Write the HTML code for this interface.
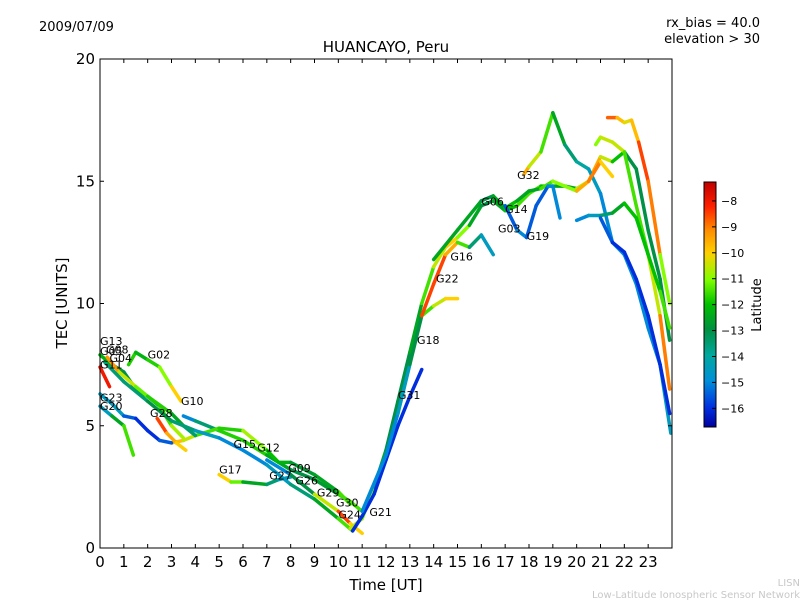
<!DOCTYPE html>
<html><head><meta charset="utf-8"><style>
body{margin:0;background:#fff;}
svg text{font-family:"DejaVu Sans","Liberation Sans",sans-serif;}
</style></head><body>
<svg id="chart" width="800" height="600" xmlns="http://www.w3.org/2000/svg">
<defs>
<linearGradient id="cbg" x1="0" y1="1" x2="0" y2="0">
<stop offset="0" stop-color="#0000a0"/>
<stop offset="0.08" stop-color="#0030e0"/>
<stop offset="0.19" stop-color="#0090d8"/>
<stop offset="0.29" stop-color="#00a8a0"/>
<stop offset="0.40" stop-color="#009040"/>
<stop offset="0.50" stop-color="#00c000"/>
<stop offset="0.60" stop-color="#80ff00"/>
<stop offset="0.71" stop-color="#ffd000"/>
<stop offset="0.80" stop-color="#ff9000"/>
<stop offset="0.90" stop-color="#ff2000"/>
<stop offset="1" stop-color="#c00000"/>
</linearGradient>
</defs>
<text x="39" y="31" font-size="13">2009/07/09</text>
<text x="760" y="27" font-size="13" text-anchor="end">rx_bias = 40.0</text>
<text x="760" y="43" font-size="13" text-anchor="end">elevation &gt; 30</text>
<text x="386" y="52" font-size="15" text-anchor="middle">HUANCAYO, Peru</text>
<g id="plot"></g>
<rect x="100" y="59" width="572" height="489" fill="none" stroke="#000" stroke-width="1"/>
<g id="axes"></g>
<text x="386" y="590" font-size="15" text-anchor="middle">Time [UT]</text>
<text x="67" y="303" font-size="15" text-anchor="middle" transform="rotate(-90 67 303)">TEC [UNITS]</text>
<rect x="704" y="182" width="12" height="245" fill="url(#cbg)" stroke="#000" stroke-width="1"/>
<g id="cbaxis"></g>
<text x="761" y="305" font-size="13" text-anchor="middle" transform="rotate(-90 761 305)">Latitude</text>
<text x="800" y="586" font-size="10" fill="#c8c8c8" text-anchor="end">LISN</text>
<text x="800" y="598" font-size="10" fill="#c8c8c8" text-anchor="end">Low-Latitude Ionospheric Sensor Network</text>
</svg>
<script>
const xTicks=[0,1,2,3,4,5,6,7,8,9,10,11,12,13,14,15,16,17,18,19,20,21,22,23];
const yTicks=[0,5,10,15,20];
const cbTicks=[-8,-9,-10,-11,-12,-13,-14,-15,-16];
const traceTimes=[
[0,0.5,1,1.5,2,2.5,3,3.5],
[1.2,1.5,2,2.5,3,3.4],
[3.5,4,5,6,7,8,9,10,10.5,11],
[3,3.5,4,5,6,6.5,7,7.5,8,9,10,10.5],
[5,5.5,6,7,7.5,8],
[0,0.5,1,1.4],
[0,0.5,1,1.5,2,2.5,3],
[0.3,0.8,1.5,2,3,3.5,4],
[0,0.4],
[2.4,2.8,3.2,3.6],
[0.2,1,2,3,4,5,6,7,8,9,10,10.6],
[7,8,9,10,10.5,11],
[10.5,11,11.5,12,12.5,13,13.5,14,14.5,15,15.5,16,16.5,17,17.5,18,18.5,19,19.5,20,20.5,21,21.5,22,22.5,23,23.5,23.9],
[17.8,18,18.5,19,19.5,20,20.5,21,21.5,22,22.5,23,23.5,23.95],
[10.6,11,11.5,12,12.5,13,13.5],
[11,12,12.5,13,13.5,14,14.5,15],
[13.5,14,14.5,15,15.5,16,16.5],
[14,15,16,16.5,17,17.5,18,18.5,19,20,20.5,21,21.5],
[17,17.5,17.9,18.3,18.8,19,19.3],
[20.8,21,21.5,22,22.5,23,23.5,23.9],
[21.3,21.7,22,22.3,22.6,23,23.5,23.9],
[20,20.5,21,21.5,22,22.5,23,23.5,23.9],
[21,21.5,22,22.5,23,23.5,23.9]
];
const traceTec=[
[7.9,7.5,7.2,6.5,6.2,5.8,5.0,4.5],
[7.5,8.0,7.7,7.4,6.6,6.0],
[5.4,5.2,4.8,4.4,3.8,3.2,2.8,2.2,1.9,1.5],
[4.3,4.4,4.6,4.9,4.8,4.4,4.0,3.5,3.5,3.0,2.3,1.8],
[3.0,2.7,2.7,2.6,2.8,2.9],
[5.8,5.4,5.0,3.8],
[6.3,5.9,5.4,5.3,4.8,4.4,4.3],
[7.8,7.2,6.6,6.2,5.5,5.0,4.6],
[7.4,6.6],
[5.3,4.7,4.3,4.0],
[7.6,6.8,6.0,5.2,4.8,4.5,4.0,3.4,2.6,2.0,1.2,0.7],
[3.6,3.0,2.2,1.5,1.0,0.6],
[0.8,1.2,2.5,4.0,6.0,8.0,10,11.5,12.3,12.7,13.2,14,14.2,13.8,14.0,14.5,14.8,14.8,14.8,14.7,15.0,16.0,15.8,16.2,15.5,13,11,8.5],
[15.3,15.6,16.2,17.8,16.5,15.8,15.5,14.5,12.5,12.0,10.8,9.0,7.5,4.7],
[0.7,1.3,2.2,3.6,5.0,6.2,7.3],
[1.5,3.8,5.5,7.5,9.5,9.9,10.2,10.2],
[9.5,10.8,12.0,12.5,12.3,12.8,12.0],
[11.8,13.0,14.2,14.4,13.9,14.2,14.6,14.7,15.0,14.6,15.0,15.8,15.2],
[14.0,13.0,12.7,14.0,14.8,14.8,13.5],
[16.5,16.8,16.6,16.2,14.0,12.0,9.5,6.5],
[17.6,17.6,17.4,17.5,16.6,15.0,12.0,10.0],
[13.4,13.6,13.6,13.7,14.1,13.5,12.0,10.5,9.0],
[13.5,12.5,12.1,11.0,9.5,7.5,5.5]
];
const traceLat=[
[-12,-12.5,-13,-13,-12.5,-12,-11,-10.5],
[-11,-12.5,-12,-11.5,-10.5,-9.5],
[-15,-15,-12,-11.5,-12,-13,-13,-12.5,-11,-12],
[-9.5,-10,-11,-12,-11.5,-10,-12,-12,-12.5,-13,-12,-11],
[-9.5,-10.5,-12,-13,-14,-15],
[-16,-13,-12,-11],
[-15,-14,-15,-16,-16,-16,-15],
[-8.5,-10,-11,-11.5,-12,-13,-14],
[-8,-8],
[-8,-9,-10,-10],
[-13,-14,-13,-13,-14,-15,-15,-15,-14,-13,-12,-11],
[-16,-14,-12,-9,-8,-12],
[-11,-10,-12,-13,-13,-13,-12,-11,-10,-10,-12,-13,-13,-12,-12,-11,-12,-12,-13,-12,-9,-10,-11,-13,-13,-13,-13,-13],
[-9,-10,-11,-12,-13,-14,-14,-15,-15,-15,-15,-15,-15,-14],
[-16,-16,-16,-16,-16,-16,-16],
[-15,-15,-15,-14,-12,-11,-10,-10],
[-9,-8,-9,-10,-13,-14,-15],
[-13,-12,-13,-13,-12,-12,-13,-12,-11,-11,-8,-10,-10],
[-16,-15,-15,-16,-15,-15,-15],
[-11,-11,-10,-11,-12,-11,-10,-8],
[-8,-9.5,-10,-10.5,-9,-8,-10,-12],
[-15,-15,-14,-13,-12,-12,-12,-12,-11],
[-15,-16,-16,-16,-16,-16,-16]
];
const labelNames=["G13","G08","G05","G04","G02","G11","G23","G20","G10","G28","G15","G12","G17","G09","G27","G26","G29","G30","G24","G21","G31","G18","G22","G16","G06","G14","G03","G19","G32"];
const labelT=[0,0.25,0,0.4,2,0,0,0,3.4,2.1,5.6,6.6,5,7.9,7.1,8.2,9.1,9.9,10,11.3,12.5,13.3,14.1,14.7,16,17,16.7,17.9,17.5];
const labelTec=[8.3,7.95,7.9,7.6,7.75,7.35,6.0,5.65,5.85,5.35,4.1,3.95,3.05,3.1,2.8,2.6,2.1,1.7,1.2,1.3,6.1,8.35,10.85,11.75,14.0,13.7,12.9,12.6,15.1];
const X=t=>100+t*572/24, Y=v=>548-v*489/20;
const CBmin=-16.72,CBmax=-7.27, CY=l=>427-(l-CBmin)/(CBmax-CBmin)*245;
const stops=[[0,[0,0,160]],[0.08,[0,48,224]],[0.19,[0,144,216]],[0.29,[0,168,160]],[0.40,[0,144,64]],[0.5,[0,192,0]],[0.6,[128,255,0]],[0.71,[255,208,0]],[0.8,[255,144,0]],[0.9,[255,32,0]],[1,[192,0,0]]];
function col(l){let f=(l-CBmin)/(CBmax-CBmin);f=Math.max(0,Math.min(1,f));for(let i=1;i<stops.length;i++){if(f<=stops[i][0]){const a=stops[i-1],b=stops[i],u=(f-a[0])/(b[0]-a[0]);return 'rgb('+a[1].map((c,k)=>Math.round(c+(b[1][k]-c)*u)).join(',')+')';}}return 'rgb(192,0,0)';}
const NS='http://www.w3.org/2000/svg';
function mk(tag,attrs,parent){const e=document.createElementNS(NS,tag);for(const k in attrs)e.setAttribute(k,attrs[k]);parent.appendChild(e);return e;}
const plot=document.getElementById('plot');
traceTimes.forEach((ts,i)=>{
 const g=mk('g',{},plot);
 
 
 for(let j=1;j<ts.length;j++){
  const s=mk('line',{x1:X(ts[j-1]),y1:Y(traceTec[i][j-1]),x2:X(ts[j]),y2:Y(traceTec[i][j]),stroke:col((traceLat[i][j-1]+traceLat[i][j])/2),'stroke-width':3.5,'stroke-linecap':'round'},g);
  
  
 }
});
labelNames.forEach((n,i)=>{
 const t=mk('text',{x:X(labelT[i]),y:Y(labelTec[i]),'font-size':11},plot);
 
 
 t.textContent=n;
});
const ax=document.getElementById('axes');
xTicks.forEach(t=>{
 mk('line',{x1:X(t),x2:X(t),y1:548,y2:544,stroke:'#000'},ax);
 mk('line',{x1:X(t),x2:X(t),y1:59,y2:63,stroke:'#000'},ax);
 const tx=mk('text',{x:X(t),y:567,'font-size':15,'text-anchor':'middle'},ax);
 
 
 tx.textContent=t;
});
yTicks.forEach(v=>{
 mk('line',{x1:100,x2:104,y1:Y(v),y2:Y(v),stroke:'#000'},ax);
 mk('line',{x1:668,x2:672,y1:Y(v),y2:Y(v),stroke:'#000'},ax);
 const tx=mk('text',{x:95,y:Y(v)+5,'font-size':15,'text-anchor':'end'},ax);
 
 
 tx.textContent=v;
});
const cb=document.getElementById('cbaxis');
cbTicks.forEach(l=>{
 mk('line',{x1:712,x2:716,y1:CY(l),y2:CY(l),stroke:'#000'},cb);
 const tx=mk('text',{x:721,y:CY(l)+4,'font-size':11},cb);
 
 
 tx.textContent='\u2212'+Math.abs(l);
});
</script>
</body></html>
